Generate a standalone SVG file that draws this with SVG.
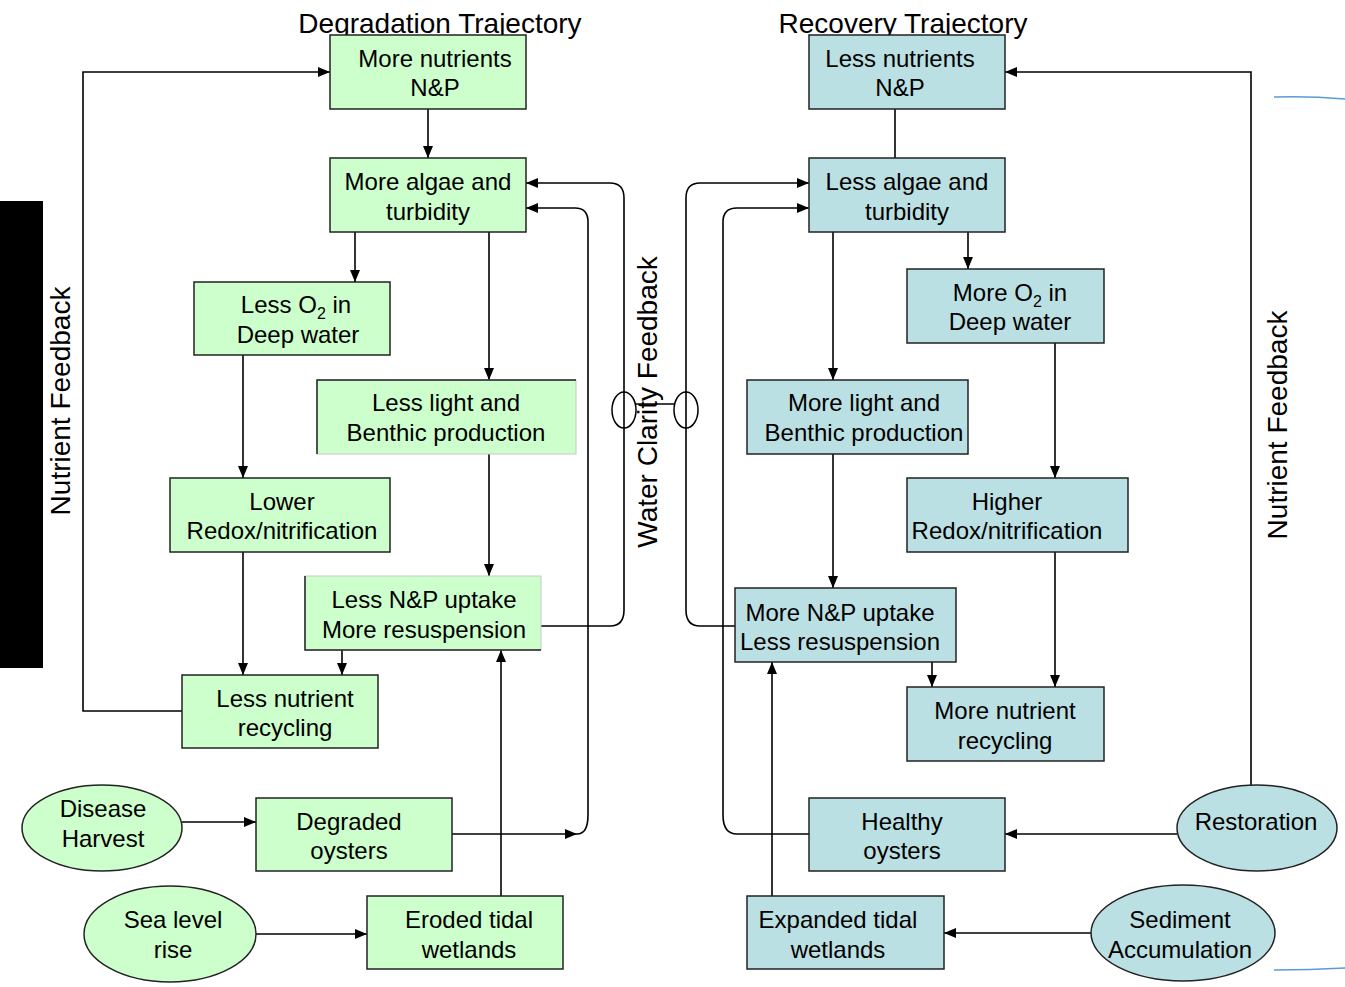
<svg xmlns="http://www.w3.org/2000/svg" width="1345" height="987" viewBox="0 0 1345 987">
<defs>
<marker id="arr" markerWidth="12" markerHeight="10" refX="12" refY="5" orient="auto" markerUnits="userSpaceOnUse">
<path d="M0,0 L12,5 L0,10 Z" fill="#000"/>
</marker>
<style>
.g{fill:#CCFFCC;stroke:#222;stroke-width:1.5}
.b{fill:#BBE0E3;stroke:#222;stroke-width:1.5}
.t{font-family:"Liberation Sans",Arial,sans-serif;font-size:24px;fill:#000;text-anchor:middle}
.h{font-family:"Liberation Sans",Arial,sans-serif;font-size:28px;fill:#000;text-anchor:middle}
.c{fill:none;stroke:#000;stroke-width:1.6}
</style>
</defs>
<rect width="1345" height="987" fill="#fff"/>
<rect x="0" y="201" width="43" height="467" fill="#000"/>
<path d="M1274,97 Q1310,96 1345,99" fill="none" stroke="#5B9BD5" stroke-width="1.5"/>
<path d="M1274,970 Q1310,970 1345,968" fill="none" stroke="#5B9BD5" stroke-width="1.5"/>

<text class="h" x="440" y="33">Degradation Trajectory</text>
<text class="h" x="903" y="33">Recovery Trajectory</text>
<text class="h" transform="translate(70,401) rotate(-90)">Nutrient Feedback</text>
<text class="h" transform="translate(1287,425) rotate(-90)">Nutrient Feedback</text>
<text class="h" transform="translate(657,402) rotate(-90)">Water Clarity Feedback</text>

<g id="connectors">
<path class="c" d="M182,711 H83 V72 H330" marker-end="url(#arr)"/>
<path class="c" d="M428,109 V158" marker-end="url(#arr)"/>
<path class="c" d="M355,232 V282" marker-end="url(#arr)"/>
<path class="c" d="M489,232 V380" marker-end="url(#arr)"/>
<path class="c" d="M243,355 V478" marker-end="url(#arr)"/>
<path class="c" d="M489,454 V576" marker-end="url(#arr)"/>
<path class="c" d="M243,552 V675" marker-end="url(#arr)"/>
<path class="c" d="M342,650 V675" marker-end="url(#arr)"/>
<path class="c" d="M538,626 H610 Q624,626 624,610 V198 Q624,183 610,183 H526" marker-end="url(#arr)"/>
<path class="c" d="M452,834 H577" marker-end="url(#arr)"/>
<path class="c" d="M577,834 Q588,834 588,815 V222 Q588,208 575,208 H526" marker-end="url(#arr)"/>
<path class="c" d="M501,896 V650" marker-end="url(#arr)"/>
<path class="c" d="M182,822 H256" marker-end="url(#arr)"/>
<path class="c" d="M256,934 H367" marker-end="url(#arr)"/>
<ellipse cx="624" cy="410" rx="12" ry="18" fill="none" stroke="#000" stroke-width="1.5"/>
<ellipse cx="686" cy="410" rx="12" ry="18" fill="none" stroke="#000" stroke-width="1.5"/>
<path class="c" d="M636,404 H674"/>

<path class="c" d="M1251,785 V72 H1005" marker-end="url(#arr)"/>
<path class="c" d="M895,109 V158"/>
<path class="c" d="M968,232 V269" marker-end="url(#arr)"/>
<path class="c" d="M833,232 V380" marker-end="url(#arr)"/>
<path class="c" d="M833,454 V588" marker-end="url(#arr)"/>
<path class="c" d="M1055,343 V478" marker-end="url(#arr)"/>
<path class="c" d="M1055,552 V687" marker-end="url(#arr)"/>
<path class="c" d="M932,662 V687" marker-end="url(#arr)"/>
<path class="c" d="M735,626 H700 Q686,626 686,610 V198 Q686,183 700,183 H809" marker-end="url(#arr)"/>
<path class="c" d="M809,834 H737 Q723,834 723,815 V222 Q723,208 737,208 H809" marker-end="url(#arr)"/>
<path class="c" d="M772,896 V662" marker-end="url(#arr)"/>
<path class="c" d="M1177,834 H1005" marker-end="url(#arr)"/>
<path class="c" d="M1091,933 H944" marker-end="url(#arr)"/>
</g>

<g id="more-nutrients"><rect class="g" x="330" y="35" width="196" height="74"/><text class="t" x="435" y="67">More nutrients</text><text class="t" x="435" y="96">N&amp;P</text></g>
<g id="more-algae"><rect class="g" x="330" y="158" width="196" height="74"/><text class="t" x="428" y="190">More algae and</text><text class="t" x="428" y="220">turbidity</text></g>
<g id="less-o2"><rect class="g" x="194" y="282" width="196" height="73"/><text class="t" x="296" y="313">Less O<tspan font-size="16" dy="6">2</tspan><tspan dy="-6"> in</tspan></text><text class="t" x="298" y="343">Deep water</text></g>
<g id="less-light"><rect x="317" y="380" width="259" height="74" fill="#CCFFCC" stroke="#c8c8c8" stroke-width="1"/><path d="M317,454 V380 H576" fill="none" stroke="#222" stroke-width="1.5"/><text class="t" x="446" y="411">Less light and</text><text class="t" x="446" y="441">Benthic production</text></g>
<g id="lower-redox"><rect class="g" x="170" y="478" width="220" height="74"/><text class="t" x="282" y="510">Lower</text><text class="t" x="282" y="539">Redox/nitrification</text></g>
<g id="less-np"><rect x="305" y="576" width="236" height="74" fill="#CCFFCC" stroke="#c8c8c8" stroke-width="1"/><path d="M305,576 V650 H541" fill="none" stroke="#222" stroke-width="1.5"/><text class="t" x="424" y="608">Less N&amp;P uptake</text><text class="t" x="424" y="638">More resuspension</text></g>
<g id="less-recycling"><rect class="g" x="182" y="675" width="196" height="73"/><text class="t" x="285" y="707">Less nutrient</text><text class="t" x="285" y="736">recycling</text></g>
<g id="disease"><ellipse class="g" cx="102" cy="828" rx="80" ry="43"/><text class="t" x="103" y="817">Disease</text><text class="t" x="103" y="847">Harvest</text></g>
<g id="degraded-oysters"><rect class="g" x="256" y="798" width="196" height="73"/><text class="t" x="349" y="830">Degraded</text><text class="t" x="349" y="859">oysters</text></g>
<g id="sea-level"><ellipse class="g" cx="170" cy="934" rx="86" ry="48"/><text class="t" x="173" y="928">Sea level</text><text class="t" x="173" y="958">rise</text></g>
<g id="eroded"><rect class="g" x="367" y="896" width="196" height="73"/><text class="t" x="469" y="928">Eroded tidal</text><text class="t" x="469" y="958">wetlands</text></g>

<g id="less-nutrients"><rect class="b" x="809" y="35" width="196" height="74"/><text class="t" x="900" y="67">Less nutrients</text><text class="t" x="900" y="96">N&amp;P</text></g>
<g id="less-algae"><rect class="b" x="809" y="158" width="196" height="74"/><text class="t" x="907" y="190">Less algae and</text><text class="t" x="907" y="220">turbidity</text></g>
<g id="more-o2"><rect class="b" x="907" y="269" width="197" height="74"/><text class="t" x="1010" y="301">More O<tspan font-size="16" dy="6">2</tspan><tspan dy="-6"> in</tspan></text><text class="t" x="1010" y="330">Deep water</text></g>
<g id="more-light"><rect class="b" x="747" y="380" width="221" height="74"/><text class="t" x="864" y="411">More light and</text><text class="t" x="864" y="441">Benthic production</text></g>
<g id="higher-redox"><rect class="b" x="907" y="478" width="221" height="74"/><text class="t" x="1007" y="510">Higher</text><text class="t" x="1007" y="539">Redox/nitrification</text></g>
<g id="more-np"><rect class="b" x="735" y="588" width="221" height="74"/><text class="t" x="840" y="621">More N&amp;P uptake</text><text class="t" x="840" y="650">Less resuspension</text></g>
<g id="more-recycling"><rect class="b" x="907" y="687" width="197" height="74"/><text class="t" x="1005" y="719">More nutrient</text><text class="t" x="1005" y="749">recycling</text></g>
<g id="healthy-oysters"><rect class="b" x="809" y="798" width="196" height="73"/><text class="t" x="902" y="830">Healthy</text><text class="t" x="902" y="859">oysters</text></g>
<g id="restoration"><ellipse class="b" cx="1257" cy="828" rx="80" ry="43"/><text class="t" x="1256" y="830">Restoration</text></g>
<g id="expanded"><rect class="b" x="747" y="896" width="197" height="73"/><text class="t" x="838" y="928">Expanded tidal</text><text class="t" x="838" y="958">wetlands</text></g>
<g id="sediment"><ellipse class="b" cx="1183" cy="933" rx="92" ry="48"/><text class="t" x="1180" y="928">Sediment</text><text class="t" x="1180" y="958">Accumulation</text></g>
</svg>
